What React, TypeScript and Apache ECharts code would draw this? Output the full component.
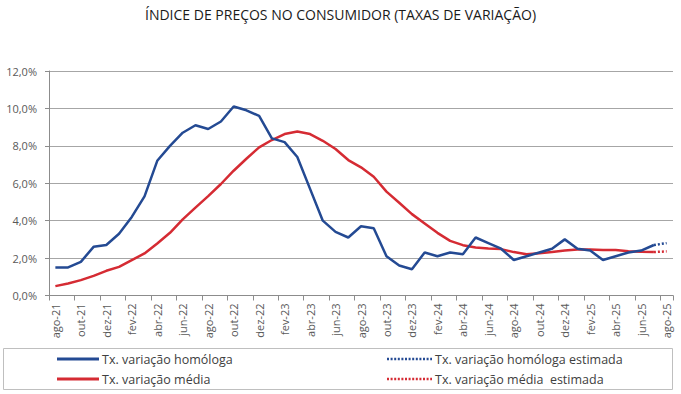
import React, { useEffect, useRef } from "react";
import * as echarts from "echarts";

const categories = [
  "ago-21", "set-21", "out-21", "nov-21", "dez-21",
  "jan-22", "fev-22", "mar-22", "abr-22", "mai-22", "jun-22", "jul-22", "ago-22", "set-22", "out-22", "nov-22", "dez-22",
  "jan-23", "fev-23", "mar-23", "abr-23", "mai-23", "jun-23", "jul-23", "ago-23", "set-23", "out-23", "nov-23", "dez-23",
  "jan-24", "fev-24", "mar-24", "abr-24", "mai-24", "jun-24", "jul-24", "ago-24", "set-24", "out-24", "nov-24", "dez-24",
  "jan-25", "fev-25", "mar-25", "abr-25", "mai-25", "jun-25", "jul-25", "ago-25",
];

// Observed values (ago-21 .. jul-25)
const homologa = [
  1.5, 1.5, 1.8, 2.6, 2.7,
  3.3, 4.2, 5.3, 7.2, 8.0, 8.7, 9.1, 8.9, 9.3, 10.1, 9.9, 9.6,
  8.4, 8.2, 7.4, 5.7, 4.0, 3.4, 3.1, 3.7, 3.6, 2.1, 1.6, 1.4,
  2.3, 2.1, 2.3, 2.2, 3.1, 2.8, 2.5, 1.9, 2.1, 2.3, 2.5, 3.0,
  2.5, 2.4, 1.9, 2.1, 2.3, 2.4, 2.7,
];
const media = [
  0.5, 0.64, 0.82, 1.05, 1.32,
  1.53, 1.89, 2.25, 2.78, 3.35, 4.07, 4.7, 5.31, 5.96, 6.67, 7.31, 7.92,
  8.31, 8.63, 8.77, 8.63, 8.27, 7.83, 7.24, 6.85, 6.35, 5.55, 4.96, 4.35,
  3.85, 3.35, 2.92, 2.69, 2.57, 2.51, 2.48, 2.32, 2.21, 2.26, 2.32, 2.41,
  2.46, 2.46, 2.43, 2.43, 2.37, 2.34, 2.32,
];
// Estimates (ago-25)
const homologaEstimada = 2.8;
const mediaEstimada = 2.36;

const yTicks = [0, 2, 4, 6, 8, 10, 12];

const seriesNames = [
  "Tx. variação homóloga",
  "Tx. variação média",
  "Tx. variação homóloga estimada",
  "Tx. variação média  estimada",
];

const BLUE = "#244A93";
const RED = "#D52B33";
const FONT = "Open Sans";

export default function App() {
  const ref = useRef<HTMLDivElement>(null);

  useEffect(() => {
    if (!ref.current) return;
    document.body.style.margin = "0";
    const chart = echarts.init(ref.current, undefined, { renderer: "svg" });
    const last = homologa.length - 1;
    const estSeries = (obs: number[], est: number) =>
      categories.map((_, i) => (i === last ? obs[last] : i === last + 1 ? est : null));

    const legendText = { fontFamily: FONT, fontSize: 12.5, fill: "#404040", verticalAlign: "middle" };
    const legendItem = (x: number, y: number, len: number, color: string, dashed: boolean, name: string) => [
      {
        type: "line",
        shape: { x1: x, y1: y, x2: x + len, y2: y },
        style: { stroke: color, lineWidth: dashed ? 2.5 : 3, lineDash: dashed ? [2, 1.6] : null },
        silent: true,
      },
      {
        type: "text",
        x: x + len + 3,
        y: y,
        style: { ...legendText, text: name },
        silent: true,
      },
    ];

    chart.setOption({
      animation: false,
      textStyle: { fontFamily: FONT },
      title: {
        text: "ÍNDICE DE PREÇOS NO CONSUMIDOR (TAXAS DE VARIAÇÃO)",
        left: "center",
        top: 2,
        textStyle: { fontFamily: FONT, fontSize: 14, fontWeight: "normal", color: "#1a1a1a" },
      },
      grid: { left: 49, right: 8, top: 71, bottom: 98.5, containLabel: false },
      xAxis: {
        type: "category",
        data: categories,
        boundaryGap: true,
        axisLine: { lineStyle: { color: "#8C8C8C", width: 1 } },
        axisTick: { show: true, interval: 1, length: 5, lineStyle: { color: "#8C8C8C" } },
        axisLabel: {
          interval: 1,
          rotate: 90,
          margin: 8,
          color: "#595959",
          fontSize: 11,
          fontFamily: FONT,
        },
        splitLine: { show: false },
      },
      yAxis: {
        type: "value",
        min: yTicks[0],
        max: yTicks[yTicks.length - 1],
        interval: 2,
        axisLine: { show: true, lineStyle: { color: "#8C8C8C", width: 1 } },
        axisTick: { show: true, length: 4, lineStyle: { color: "#8C8C8C" } },
        axisLabel: {
          color: "#595959",
          fontSize: 11,
          fontFamily: FONT,
          margin: 12,
          formatter: (v: number) => v.toFixed(1).replace(".", ",") + "%",
        },
        splitLine: { lineStyle: { color: "#A6A6A6", width: 1 } },
      },
      graphic: [
        {
          type: "rect",
          shape: { x: 3.5, y: 348.5, width: 669, height: 41 },
          style: { fill: "none", stroke: "#BFBFBF", lineWidth: 1 },
          silent: true,
          z: -1,
        },
        ...legendItem(57, 359, 42, BLUE, false, seriesNames[0]),
        ...legendItem(57, 379, 42, RED, false, seriesNames[1]),
        ...legendItem(387, 359, 45, BLUE, true, seriesNames[2]),
        ...legendItem(387, 379, 45, RED, true, seriesNames[3]),
      ],
      series: [
        {
          name: seriesNames[0],
          type: "line",
          data: homologa,
          symbol: "none",
          lineStyle: { color: BLUE, width: 2.5 },
          itemStyle: { color: BLUE },
          z: 3,
        },
        {
          name: seriesNames[1],
          type: "line",
          data: media,
          symbol: "none",
          lineStyle: { color: RED, width: 2.5 },
          itemStyle: { color: RED },
          z: 2,
        },
        {
          name: seriesNames[2],
          type: "line",
          data: estSeries(homologa, homologaEstimada),
          symbol: "none",
          connectNulls: false,
          lineStyle: { color: BLUE, width: 2.5, type: [2, 2] },
          itemStyle: { color: BLUE },
        },
        {
          name: seriesNames[3],
          type: "line",
          data: estSeries(media, mediaEstimada),
          symbol: "none",
          connectNulls: false,
          lineStyle: { color: RED, width: 2.5, type: [2, 2] },
          itemStyle: { color: RED },
        },
      ],
    });
    return () => chart.dispose();
  }, []);

  return <div ref={ref} style={{ width: 681, height: 394 }} />;
}
